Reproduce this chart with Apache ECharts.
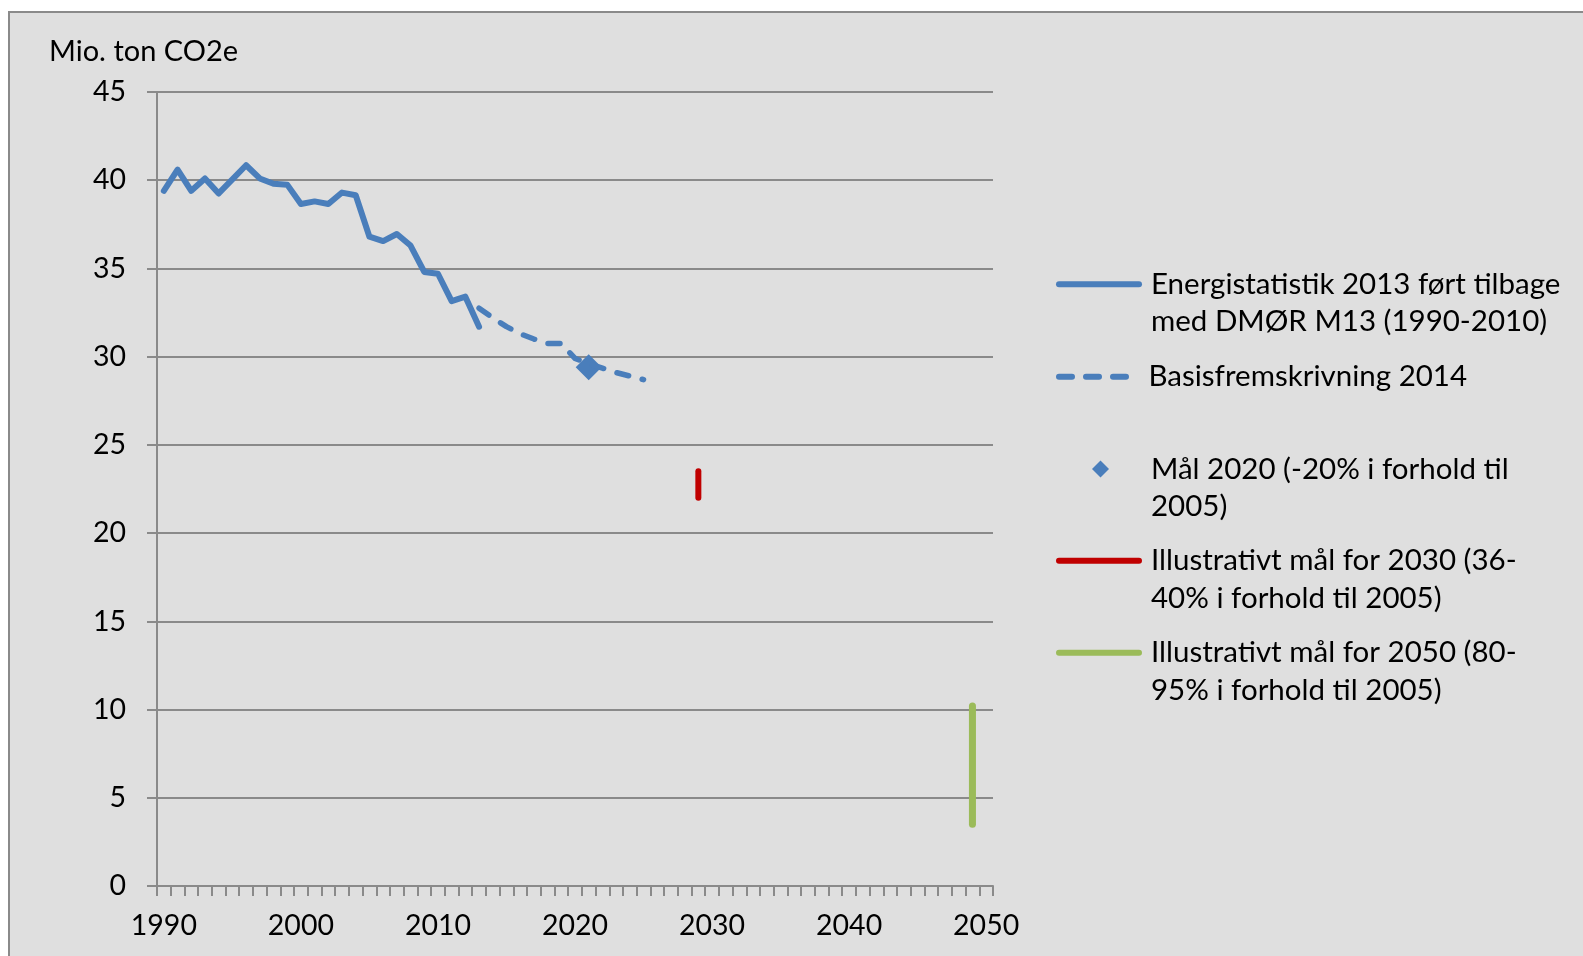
<!DOCTYPE html>
<html>
<head>
<meta charset="utf-8">
<script src="https://cdn.jsdelivr.net/npm/echarts@6/dist/echarts.min.js"></script>
<style>
  html, body { margin: 0; padding: 0; background: #fff; }
  #frame {
    position: absolute; left: 8px; top: 11px; width: 1700px; height: 1100px;
    background: #dfdfdf; border-left: 2px solid #8a8a8a; border-top: 2px solid #8a8a8a;
  }
  #chart { position: absolute; left: 0; top: 0; width: 1583px; height: 956px; }
</style>
</head>
<body>
<div id="frame"></div>
<div id="chart"></div>
<script>
// x categories 1990..2050
const years = [];
for (let y = 1990; y <= 2050; y++) years.push(String(y));

// Energistatistik 2013 (1990-2013)
const historicYears = ['1990', '1991', '1992', '1993', '1994', '1995', '1996', '1997', '1998', '1999',
  '2000', '2001', '2002', '2003', '2004', '2005', '2006', '2007', '2008', '2009', '2010', '2011', '2012', '2013'];
const historicValues = [39.4, 40.6, 39.4, 40.1, 39.25, 40.05, 40.85, 40.1, 39.8, 39.75,
  38.65, 38.8, 38.65, 39.3, 39.15, 36.8, 36.55, 36.95, 36.3, 34.8, 34.7, 33.15, 33.4, 31.7];

// Basisfremskrivning 2014 (2013-2025)
const projYears = ['2013', '2014', '2015', '2016', '2017', '2018', '2019', '2020', '2021', '2022', '2023', '2024', '2025'];
const projValues = [32.75, 32.2, 31.7, 31.3, 31.0, 30.75, 30.75, 29.9, 29.6, 29.35, 29.1, 28.9, 28.7];

// targets
const maal2020 = [['2021', 29.4]];
const maal2030 = [['2029', 22.0], ['2029', 23.5]];
const maal2050 = [['2049', 3.5], ['2049', 10.2]];

const yTicks = { min: 0, max: 45, interval: 5 };

const names = [
  'Energistatistik 2013 ført tilbage med DMØR M13 (1990-2010)',
  'Basisfremskrivning 2014',
  'Mål 2020 (-20% i forhold til 2005)',
  'Illustrativt mål for 2030 (36-40% i forhold til 2005)',
  'Illustrativt mål for 2050 (80-95% i forhold til 2005)'
];
// legend text as wrapped in the original; leading blank line keeps the icon on the first line
const legendText = {};
legendText[names[0]] = '\nEnergistatistik 2013 ført tilbage\nmed DMØR M13 (1990-2010)';
legendText[names[1]] = 'Basisfremskrivning 2014';
legendText[names[2]] = '\nMål 2020 (-20% i forhold til\n2005)';
legendText[names[3]] = '\nIllustrativt mål for 2030 (36-\n40% i forhold til 2005)';
legendText[names[4]] = '\nIllustrativt mål for 2050 (80-\n95% i forhold til 2005)';

function toSeries(cats, vals) {
  const map = {};
  cats.forEach((c, i) => { map[c] = vals[i]; });
  return years.map(y => (y in map ? map[y] : null));
}

const FONT = 'Lato';
const FS = 28.5;
const LFS = 29.5;
const LH = 37.5;

const solidIcon = 'path://M3,0h80a3,3 0 0 1 0,6h-80a3,3 0 0 1 0,-6z';
const dashIcon = 'path://M3,0h13a3,3 0 0 1 0,6h-13a3,3 0 0 1 0,-6z' +
  'M30,0h13a3,3 0 0 1 0,6h-13a3,3 0 0 1 0,-6z' +
  'M57,0h13a3,3 0 0 1 0,6h-13a3,3 0 0 1 0,-6z';

function legendFor(name, top, extra, padLeft) {
  return Object.assign({
    data: [name],
    left: 1056,
    top: top,
    padding: 0,
    orient: 'vertical',
    icon: solidIcon,
    itemWidth: 86,
    itemHeight: 6,
    selectedMode: false,
    formatter: n => legendText[n],
    textStyle: { fontFamily: FONT, fontSize: LFS, lineHeight: LH, color: '#000', padding: [0, 0, 0, padLeft] }
  }, extra || {});
}

const chart = echarts.init(document.getElementById('chart'));
chart.setOption({
  backgroundColor: 'transparent',
  animation: false,
  title: {
    text: 'Mio. ton CO2e',
    left: 49, top: 37, padding: 0,
    textStyle: { fontFamily: FONT, fontSize: 29, fontWeight: 'normal', color: '#000' }
  },
  grid: { left: 157, right: 590, top: 92, bottom: 70 },
  legend: [
    legendFor(names[0], 284.3 - 1.5 * LH, null, 4),
    legendFor(names[1], 376.7 - 0.5 * LH, { icon: dashIcon, itemWidth: 78 }, 12),
    legendFor(names[2], 469 - 1.5 * LH, { left: 1092, icon: 'diamond', itemWidth: 17, itemHeight: 17 }, 37),
    legendFor(names[3], 560.7 - 1.5 * LH, null, 4),
    legendFor(names[4], 652.7 - 1.5 * LH, { itemHeight: 7 }, 4)
  ],
  xAxis: {
    type: 'category',
    data: years,
    boundaryGap: true,
    axisLine: { lineStyle: { color: '#8a8a8a', width: 2 } },
    axisTick: { show: true, interval: 0, length: 10, lineStyle: { color: '#8a8a8a', width: 2 } },
    axisLabel: { interval: 9, margin: 25, fontFamily: FONT, fontSize: FS, color: '#000' },
    splitLine: { show: false }
  },
  yAxis: {
    type: 'value',
    min: yTicks.min, max: yTicks.max, interval: yTicks.interval,
    axisLine: { show: true, lineStyle: { color: '#8a8a8a', width: 2 } },
    axisTick: { show: true, length: 10, lineStyle: { color: '#8a8a8a', width: 2 } },
    axisLabel: { margin: 31, fontFamily: FONT, fontSize: FS, color: '#000' },
    splitLine: { show: true, lineStyle: { color: '#8a8a8a', width: 2 } }
  },
  series: [
    {
      name: names[0], type: 'line', symbol: 'none',
      data: toSeries(historicYears, historicValues),
      lineStyle: { color: '#4a7ebb', width: 6, cap: 'round', join: 'round' },
      itemStyle: { color: '#4a7ebb' }
    },
    {
      name: names[1], type: 'line', symbol: 'none',
      data: toSeries(projYears, projValues),
      lineStyle: { color: '#4a7ebb', width: 5.5, type: [12, 14], cap: 'round', join: 'round' },
      itemStyle: { color: '#4a7ebb' }
    },
    {
      name: names[2], type: 'scatter', symbol: 'diamond', symbolSize: 26,
      data: maal2020,
      itemStyle: { color: '#4a7ebb', opacity: 1 }
    },
    {
      name: names[3], type: 'line', symbol: 'none',
      data: maal2030,
      lineStyle: { color: '#c00000', width: 6, cap: 'round' },
      itemStyle: { color: '#c00000' }
    },
    {
      name: names[4], type: 'line', symbol: 'none',
      data: maal2050,
      lineStyle: { color: '#9bbb59', width: 7, cap: 'round' },
      itemStyle: { color: '#9bbb59' }
    }
  ]
});
</script>
</body>
</html>
